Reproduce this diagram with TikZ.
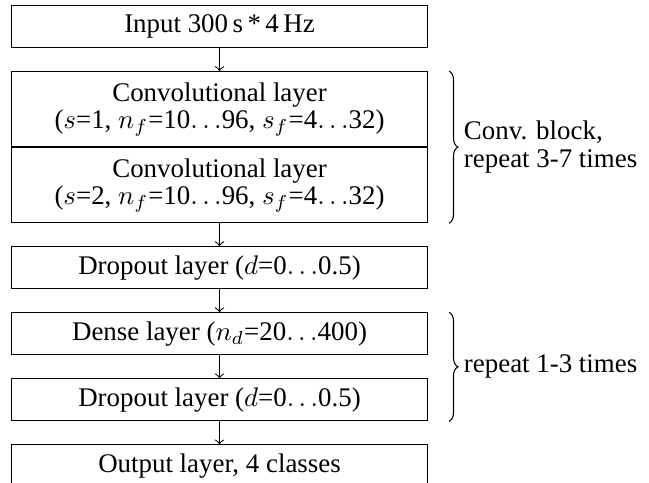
\documentclass[tikz,border=0pt]{standalone}
\usepackage{fontspec}
\setmainfont{Liberation Serif}
\usetikzlibrary{positioning, decorations.pathreplacing}

\begin{document}
\begin{tikzpicture}[%
    ->,
    node distance=8.55pt,
    every node/.style={font=\normalsize},
    layer/.style={draw, rectangle, minimum width=154.6pt, minimum height=15.6pt,
                  inner sep=0pt, align=center},
    convlayer/.style={layer, minimum height=27.87pt},
    grouping/.style={-, decorate, decoration={brace, amplitude=3.3pt}}
]

\useasboundingbox (-4.09pt,1.86pt) rectangle (237.1pt,-177.6pt);

% input
\node[layer, anchor=north west] (input) at (0,0) {Input 300\,s\,*\,4\,Hz};

% conv block: two layers stacked without a gap
\node[convlayer, below=of input] (conv1)
    {Convolutional layer\\[-2pt]($s$=1, $n_f$=10$\ldots$96, $s_f$=4$\ldots$32)};
\node[convlayer, below=0pt of conv1] (conv2)
    {Convolutional layer\\[-2pt]($s$=2, $n_f$=10$\ldots$96, $s_f$=4$\ldots$32)};

\node[layer, below=of conv2] (drop1) {Dropout layer ($d$=0$\ldots$0.5)};

% dense block
\node[layer, below=of drop1] (dense) {Dense layer ($n_d$=20$\ldots$400)};
\node[layer, below=of dense] (drop2) {Dropout layer ($d$=0$\ldots$0.5)};

\node[layer, below=of drop2] (output) {Output layer, 4 classes};

% arrows between layers
\draw (input) -- (conv1);
\draw (conv2) -- (drop1);
\draw (drop1) -- (dense);
\draw (dense) -- (drop2);
\draw (drop2) -- (output);

% braces on the right
\draw[grouping] ([xshift=7.8pt]conv1.north east) -- ([xshift=7.8pt]conv2.south east)
    node[midway, right=2pt, align=left] {Conv. block,\\[-1.6pt]repeat 3-7 times};
\draw[grouping] ([xshift=7.8pt]dense.north east) -- ([xshift=7.8pt]drop2.south east)
    node[midway, right=2pt] {repeat 1-3 times};

\end{tikzpicture}
\end{document}
